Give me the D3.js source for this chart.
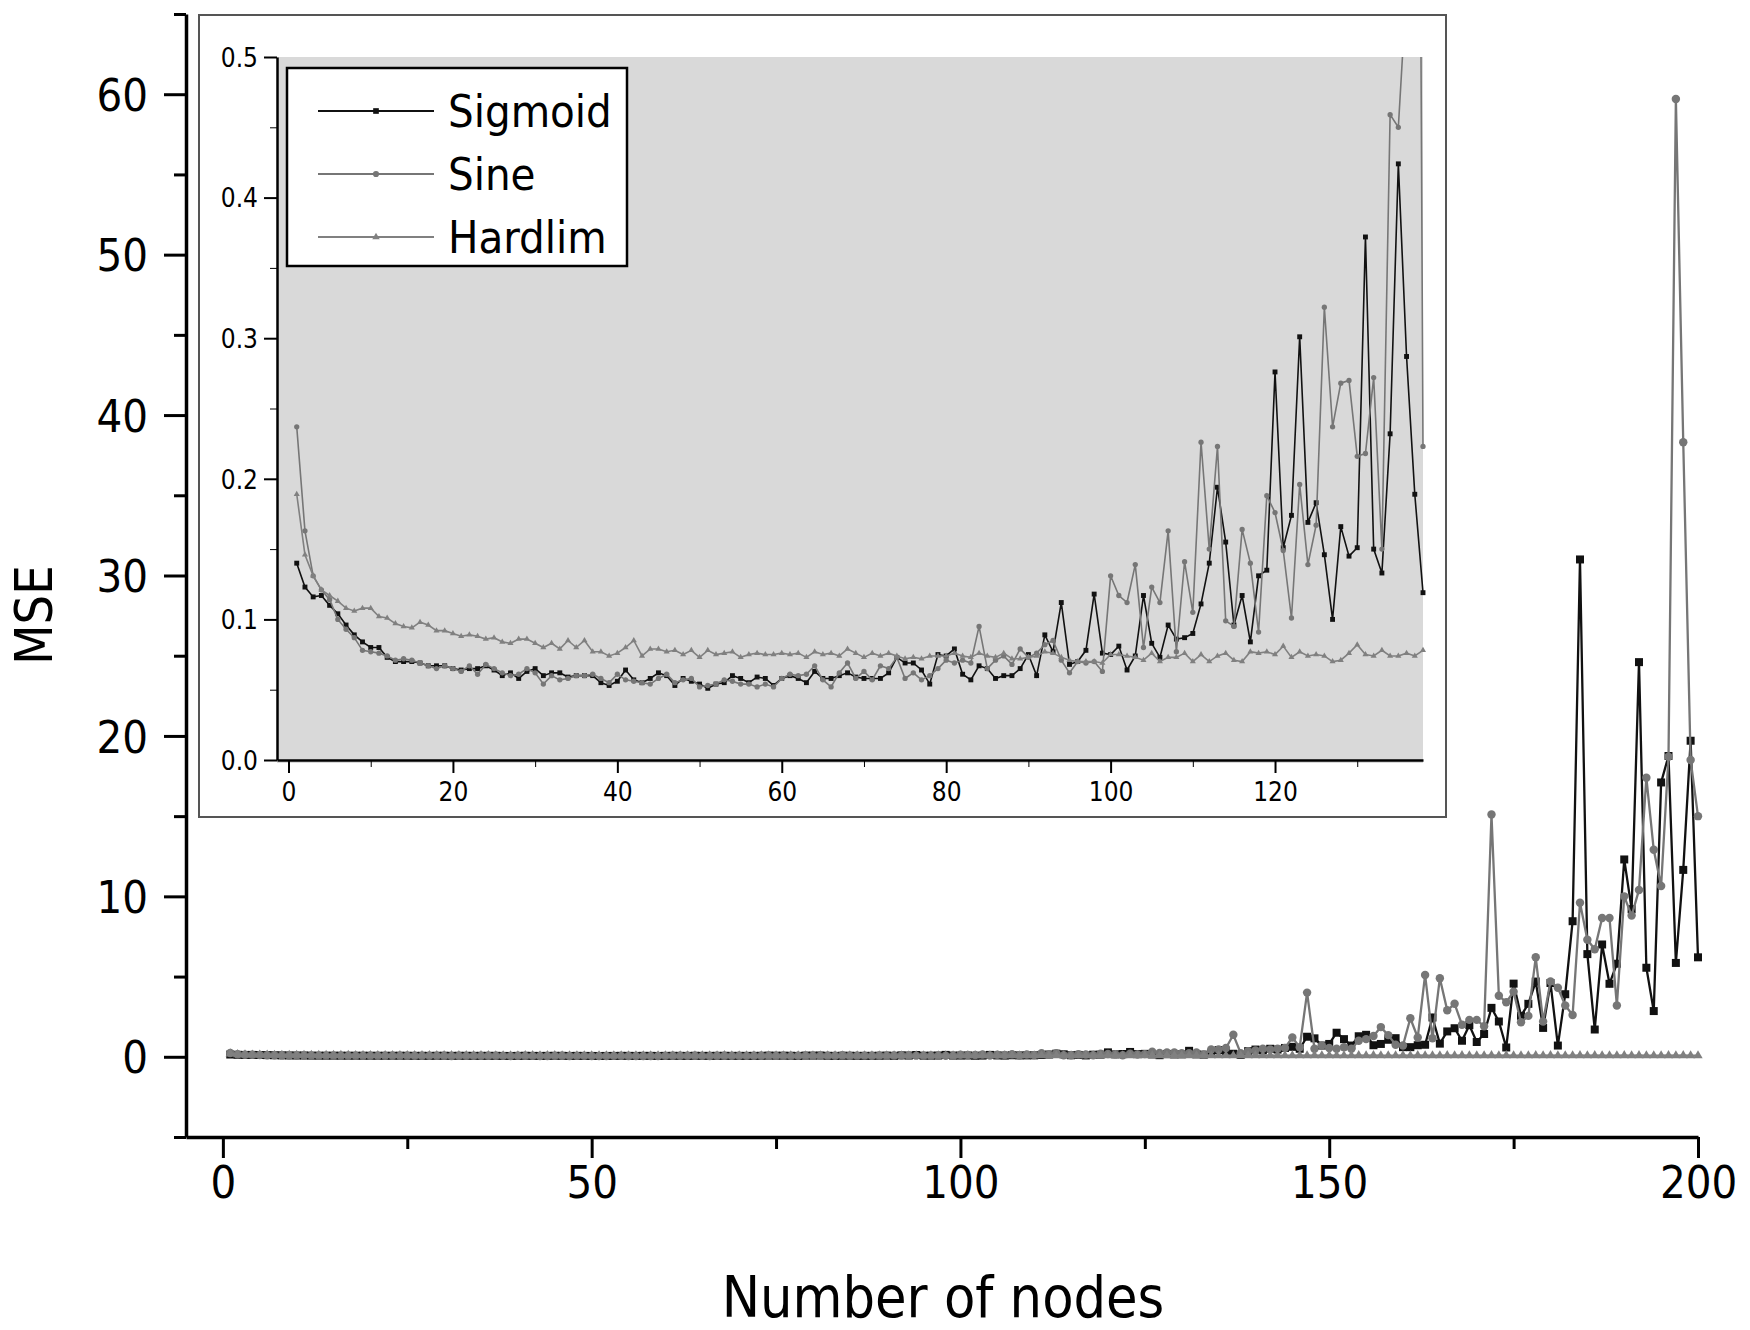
<!DOCTYPE html>
<html>
<head>
<meta charset="utf-8">
<script src="https://cdn.jsdelivr.net/npm/d3@7"></script>
<style>
  body { margin: 0; background: #fff; }
  svg text { font-family: "DejaVu Sans Condensed", "DejaVu Sans", sans-serif; font-stretch: condensed; fill: #000; }
</style>
</head>
<body>
<div id="chart"></div>
<script>
// MSE vs number of hidden nodes, three activation functions (x = 1..200)
var sigmoidMse = [
  0.140, 0.123, 0.116, 0.117, 0.110, 0.104, 0.096, 0.089, 0.084, 0.080,
  0.080, 0.073, 0.070, 0.070, 0.070, 0.069, 0.067, 0.067, 0.067, 0.065,
  0.064, 0.065, 0.065, 0.067, 0.064, 0.060, 0.062, 0.058, 0.063, 0.065,
  0.060, 0.062, 0.062, 0.059, 0.060, 0.060, 0.060, 0.055, 0.053, 0.056,
  0.064, 0.057, 0.055, 0.058, 0.062, 0.060, 0.053, 0.058, 0.056, 0.054,
  0.051, 0.054, 0.055, 0.060, 0.058, 0.055, 0.059, 0.058, 0.053, 0.058,
  0.060, 0.058, 0.055, 0.063, 0.058, 0.058, 0.060, 0.062, 0.059, 0.058,
  0.058, 0.058, 0.062, 0.073, 0.069, 0.069, 0.064, 0.054, 0.075, 0.074,
  0.079, 0.061, 0.057, 0.067, 0.065, 0.058, 0.060, 0.060, 0.065, 0.075,
  0.060, 0.089, 0.077, 0.112, 0.068, 0.070, 0.078, 0.118, 0.076, 0.075,
  0.081, 0.064, 0.074, 0.117, 0.083, 0.073, 0.096, 0.086, 0.087, 0.090,
  0.111, 0.140, 0.194, 0.155, 0.096, 0.117, 0.084, 0.131, 0.135, 0.276,
  0.151, 0.174, 0.301, 0.169, 0.183, 0.146, 0.100, 0.166, 0.145, 0.151,
  0.372, 0.150, 0.133, 0.232, 0.424, 0.287, 0.189, 0.119, 0.35, 0.45,
  0.40, 0.50, 0.45, 0.55, 0.62, 0.50, 1.25, 1.15, 0.70, 0.80,
  1.50, 1.10, 0.70, 1.28, 1.37, 0.72, 0.80, 1.06, 1.16, 0.60,
  0.60, 0.72, 0.75, 2.45, 0.82, 1.58, 1.78, 1.00, 1.97, 0.92,
  1.42, 3.05, 2.20, 0.58, 4.56, 2.55, 3.30, 4.69, 1.80, 4.60,
  0.70, 3.90, 8.45, 31.0, 6.40, 1.70, 7.00, 4.55, 5.80, 12.3,
  9.20, 24.6, 5.55, 2.85, 17.1, 18.75, 5.85, 11.65, 19.7, 6.20
];

var sineMse = [
  0.237, 0.163, 0.131, 0.121, 0.114, 0.100, 0.093, 0.087, 0.078, 0.077,
  0.076, 0.074, 0.071, 0.072, 0.071, 0.069, 0.067, 0.065, 0.067, 0.065,
  0.063, 0.067, 0.061, 0.068, 0.065, 0.062, 0.060, 0.061, 0.065, 0.062,
  0.054, 0.060, 0.057, 0.058, 0.060, 0.060, 0.061, 0.058, 0.055, 0.061,
  0.057, 0.056, 0.055, 0.054, 0.058, 0.061, 0.055, 0.057, 0.058, 0.052,
  0.053, 0.054, 0.057, 0.056, 0.054, 0.054, 0.052, 0.054, 0.052, 0.058,
  0.061, 0.060, 0.061, 0.067, 0.057, 0.052, 0.062, 0.069, 0.058, 0.063,
  0.057, 0.067, 0.065, 0.073, 0.058, 0.062, 0.057, 0.060, 0.065, 0.071,
  0.069, 0.071, 0.069, 0.095, 0.065, 0.071, 0.074, 0.068, 0.079, 0.073,
  0.076, 0.082, 0.085, 0.071, 0.062, 0.070, 0.069, 0.070, 0.063, 0.131,
  0.117, 0.112, 0.139, 0.080, 0.123, 0.112, 0.163, 0.077, 0.141, 0.105,
  0.226, 0.150, 0.223, 0.099, 0.095, 0.164, 0.140, 0.091, 0.188, 0.176,
  0.149, 0.101, 0.196, 0.139, 0.167, 0.322, 0.237, 0.268, 0.270, 0.216,
  0.218, 0.272, 0.150, 0.459, 0.450, 0.55, 1.37, 0.223, 0.35, 0.40,
  0.50, 0.45, 0.50, 0.55, 1.20, 0.60, 4.00, 0.50, 0.70, 0.55,
  0.50, 0.60, 0.50, 1.00, 1.10, 1.30, 1.85, 1.35, 0.75, 0.70,
  2.40, 1.20, 5.10, 1.15, 4.90, 2.90, 3.30, 2.00, 2.30, 2.30,
  1.90, 15.1, 3.80, 3.40, 4.05, 2.15, 2.55, 6.20, 2.20, 4.70,
  4.30, 3.20, 2.60, 9.60, 7.30, 6.70, 8.65, 8.65, 3.20, 10.0,
  8.80, 10.4, 17.4, 12.9, 10.65, 18.7, 59.7, 38.3, 18.5, 15.0
];

var hardlimMse = [
  0.189, 0.146, 0.131, 0.121, 0.117, 0.113, 0.108, 0.106, 0.108, 0.108,
  0.102, 0.101, 0.097, 0.095, 0.094, 0.098, 0.096, 0.092, 0.092, 0.090,
  0.088, 0.089, 0.088, 0.086, 0.087, 0.084, 0.083, 0.086, 0.086, 0.083,
  0.080, 0.083, 0.079, 0.085, 0.080, 0.085, 0.077, 0.077, 0.074, 0.076,
  0.080, 0.085, 0.074, 0.079, 0.079, 0.077, 0.078, 0.075, 0.078, 0.073,
  0.078, 0.075, 0.076, 0.077, 0.073, 0.075, 0.076, 0.075, 0.075, 0.076,
  0.075, 0.076, 0.073, 0.077, 0.075, 0.076, 0.074, 0.079, 0.076, 0.073,
  0.076, 0.074, 0.076, 0.074, 0.072, 0.073, 0.072, 0.074, 0.074, 0.074,
  0.076, 0.074, 0.073, 0.076, 0.074, 0.073, 0.076, 0.072, 0.072, 0.073,
  0.074, 0.077, 0.076, 0.073, 0.071, 0.070, 0.070, 0.070, 0.069, 0.075,
  0.075, 0.074, 0.073, 0.071, 0.076, 0.070, 0.073, 0.073, 0.076, 0.070,
  0.075, 0.070, 0.074, 0.076, 0.071, 0.070, 0.077, 0.076, 0.077, 0.075,
  0.081, 0.073, 0.077, 0.074, 0.075, 0.074, 0.070, 0.071, 0.076, 0.082,
  0.075, 0.074, 0.078, 0.074, 0.074, 0.076, 0.074, 0.078, 0.072, 0.079,
  0.073, 0.080, 0.072, 0.078, 0.073, 0.080, 0.072, 0.079, 0.073, 0.080,
  0.072, 0.078, 0.073, 0.079, 0.072, 0.080, 0.073, 0.078, 0.072, 0.079,
  0.073, 0.080, 0.072, 0.078, 0.073, 0.079, 0.072, 0.080, 0.073, 0.078,
  0.072, 0.079, 0.073, 0.080, 0.072, 0.078, 0.073, 0.079, 0.072, 0.080,
  0.073, 0.078, 0.072, 0.079, 0.073, 0.080, 0.072, 0.078, 0.073, 0.079,
  0.072, 0.080, 0.073, 0.078, 0.072, 0.079, 0.073, 0.080, 0.072, 0.078
];

var seriesNames = ["Sigmoid", "Sine", "Hardlim"];
var mainXTicks = [0, 50, 100, 150, 200];
var mainYTicks = [0, 10, 20, 30, 40, 50, 60];
var insetXTicks = [0, 20, 40, 60, 80, 100, 120];
var insetYTicks = [0.0, 0.1, 0.2, 0.3, 0.4, 0.5];
var insetLastNode = 138;

var svgWidth = 1750;
var svgHeight = 1330;

var svg = d3.select("#chart")
  .append("svg")
  .attr("width", svgWidth)
  .attr("height", svgHeight);

// series styling
var styles = [
  { name: seriesNames[0], values: sigmoidMse, color: "#111", symbol: d3.symbolSquare, size: 64, insetSize: 24 },
  { name: seriesNames[1], values: sineMse, color: "#767676", symbol: d3.symbolCircle, size: 56, insetSize: 22 },
  { name: seriesNames[2], values: hardlimMse, color: "#808080", symbol: d3.symbolTriangle, size: 38, insetSize: 16 }
];

// ---------- main chart ----------
var x = d3.scaleLinear().domain([-5, 200]).range([186, 1698]);
var y = d3.scaleLinear().domain([-5, 65]).range([1137, 14]);

// minor ticks first (no labels)
svg.append("g")
  .attr("transform", "translate(0,1137)")
  .call(d3.axisBottom(x).tickValues([25, 75, 125, 175]).tickSize(12).tickFormat(""))
  .call(g => g.select(".domain").remove());
svg.append("g")
  .attr("transform", "translate(186,0)")
  .call(d3.axisLeft(y).tickValues([-5, 5, 15, 25, 35, 45, 55, 65]).tickSize(12).tickFormat(""))
  .call(g => g.select(".domain").remove());

var xAxis = svg.append("g")
  .attr("transform", "translate(0,1137)")
  .call(d3.axisBottom(x).tickValues(mainXTicks).tickSize(21).tickSizeOuter(0).tickPadding(8));
var yAxis = svg.append("g")
  .attr("transform", "translate(186,0)")
  .call(d3.axisLeft(y).tickValues(mainYTicks).tickSize(22).tickSizeOuter(0).tickPadding(16));

svg.selectAll(".tick line").attr("stroke", "#000").attr("stroke-width", 3);
[xAxis, yAxis].forEach(function(a) {
  a.select(".domain").attr("stroke", "#000").attr("stroke-width", 3.5);
  a.selectAll("text").style("font-size", "45px").attr("fill", "#000");
});
xAxis.selectAll("text").attr("dy", "0.71em");
yAxis.selectAll("text").attr("dy", "0.36em");

var mainLine = d3.line()
  .x((d, i) => x(i + 1))
  .y(d => y(d));

styles.forEach(function(s) {
  svg.append("path")
    .datum(s.values)
    .attr("d", mainLine)
    .attr("fill", "none")
    .attr("stroke", s.color)
    .attr("stroke-width", 2.3);
  svg.append("g").selectAll("path")
    .data(s.values)
    .enter()
    .append("path")
    .attr("transform", (d, i) => `translate(${x(i + 1)},${y(d)})`)
    .attr("d", d3.symbol().type(s.symbol).size(s.size))
    .attr("fill", s.color);
});

// axis titles
svg.append("text")
  .attr("x", 943)
  .attr("y", 1317)
  .attr("text-anchor", "middle")
  .style("font-size", "57px")
  .text("Number of nodes");

svg.append("text")
  .attr("transform", "translate(52,615) rotate(-90)")
  .attr("text-anchor", "middle")
  .style("font-size", "52px")
  .text("MSE");

// ---------- inset ----------
svg.append("rect")
  .attr("x", 199).attr("y", 15)
  .attr("width", 1446 - 199).attr("height", 817 - 15)
  .attr("fill", "#fff")
  .attr("stroke", "#555")
  .attr("stroke-width", 2);

var ix = d3.scaleLinear().domain([-1.4, 138]).range([277, 1423]);
var iy = d3.scaleLinear().domain([0, 0.5]).range([760, 57]);

svg.append("rect")
  .attr("x", 277).attr("y", 57)
  .attr("width", 1423 - 277).attr("height", 763 - 57)
  .attr("fill", "#d9d9d9");

svg.append("clipPath").attr("id", "insetClip")
  .append("rect")
  .attr("x", 277).attr("y", 57)
  .attr("width", 1423 - 277 + 4).attr("height", 760 - 57);

svg.append("g")
  .attr("transform", "translate(0,760)")
  .call(d3.axisBottom(ix).tickValues([10, 30, 50, 70, 90, 110, 130]).tickSize(7).tickFormat(""))
  .call(g => g.select(".domain").remove());
svg.append("g")
  .attr("transform", "translate(277,0)")
  .call(d3.axisLeft(iy).tickValues([0.05, 0.15, 0.25, 0.35, 0.45]).tickSize(7).tickFormat(""))
  .call(g => g.select(".domain").remove());

var ixAxis = svg.append("g")
  .attr("transform", "translate(0,760)")
  .call(d3.axisBottom(ix).tickValues(insetXTicks).tickSize(13).tickSizeOuter(0).tickPadding(10));
var iyAxis = svg.append("g")
  .attr("transform", "translate(277,0)")
  .call(d3.axisLeft(iy).tickValues(insetYTicks).tickSize(13).tickSizeOuter(0).tickPadding(6)
    .tickFormat(d3.format(".1f")));

[ixAxis, iyAxis].forEach(function(a) {
  a.select(".domain").attr("stroke", "#000").attr("stroke-width", 2.5);
  a.selectAll(".tick line").attr("stroke", "#000").attr("stroke-width", 2);
  a.selectAll("text").style("font-size", "26px").attr("fill", "#000");
});
ixAxis.selectAll("text").attr("dy", "0.71em");
iyAxis.selectAll("text").attr("dy", "0.36em");

var insetLine = d3.line()
  .x((d, i) => ix(i + 1))
  .y(d => iy(d));

var insetG = svg.append("g").attr("clip-path", "url(#insetClip)");
styles.forEach(function(s) {
  var vals = s.values.slice(0, insetLastNode);
  insetG.append("path")
    .datum(vals)
    .attr("d", insetLine)
    .attr("fill", "none")
    .attr("stroke", s.color)
    .attr("stroke-width", 1.6);
  insetG.append("g").selectAll("path")
    .data(vals)
    .enter()
    .append("path")
    .attr("transform", (d, i) => `translate(${ix(i + 1)},${iy(d)})`)
    .attr("d", d3.symbol().type(s.symbol).size(s.insetSize))
    .attr("fill", s.color);
});

// legend
var legend = svg.append("g");
legend.append("rect")
  .attr("x", 287).attr("y", 68)
  .attr("width", 627 - 287).attr("height", 266 - 68)
  .attr("fill", "#fff")
  .attr("stroke", "#000")
  .attr("stroke-width", 2.5);

var legendRows = [111, 174, 237];
styles.forEach(function(s, i) {
  var ly = legendRows[i];
  legend.append("line")
    .attr("x1", 318).attr("x2", 434)
    .attr("y1", ly).attr("y2", ly)
    .attr("stroke", s.color)
    .attr("stroke-width", 2.2);
  legend.append("path")
    .attr("transform", `translate(376,${ly})`)
    .attr("d", d3.symbol().type(s.symbol).size(s.insetSize + 8))
    .attr("fill", s.color);
  legend.append("text")
    .attr("x", 448)
    .attr("y", ly)
    .attr("dy", "0.36em")
    .style("font-size", "45px")
    .text(s.name);
});
</script>
</body>
</html>
